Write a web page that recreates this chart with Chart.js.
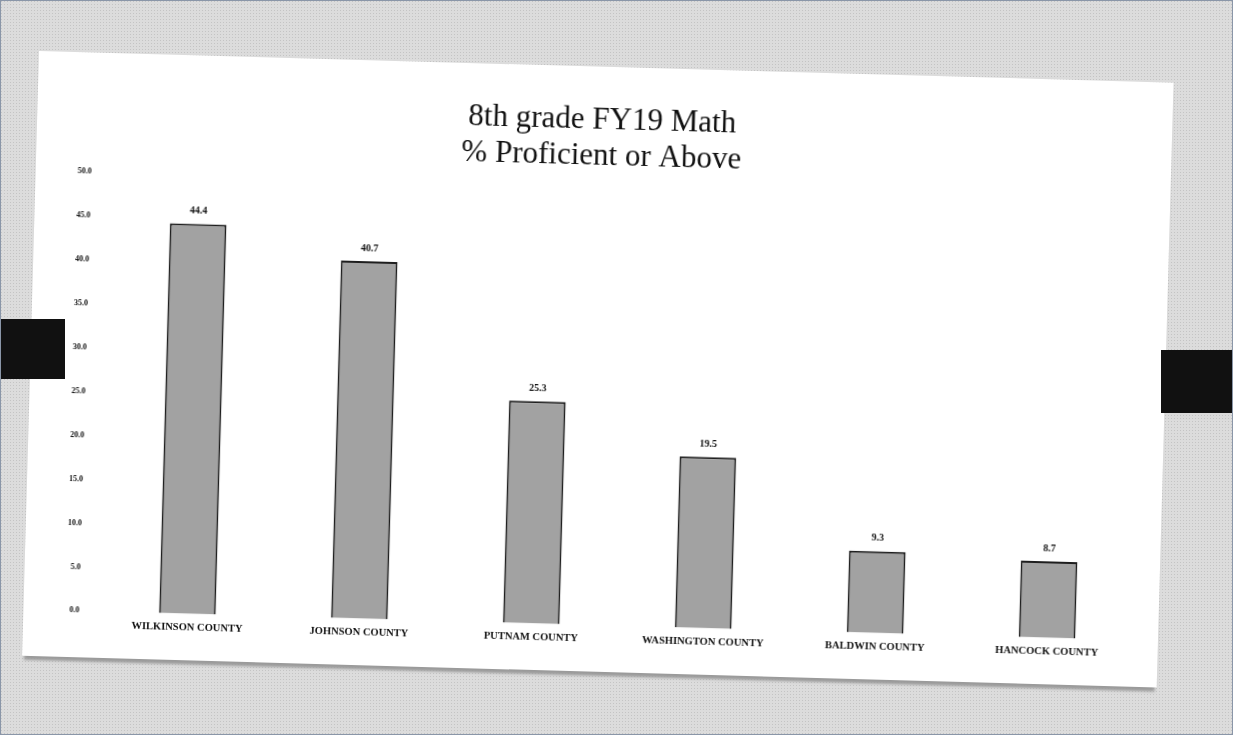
<!DOCTYPE html>
<html>
<head>
<meta charset="utf-8">
<script src="https://cdn.jsdelivr.net/npm/chart.js@4"></script>
<style>
  html, body { margin: 0; padding: 0; }
  body {
    width: 1233px; height: 735px; overflow: hidden; position: relative;
    background: #dcdcdc;
    background-image: radial-gradient(#c4c4c4 0.6px, transparent 0.8px);
    background-size: 3px 3px;
    box-sizing: border-box; border: 1px solid #8a96a8;
  }
  .card {
    position: absolute; left: 38px; top: 50px; width: 1135px; height: 605px;
    background: #fff; transform: rotate(1.6deg); transform-origin: 0 0;
    box-shadow: 0 6px 3px -2px #9a9a9a;
  }
  .tab { position: absolute; background: #111; }
</style>
</head>
<body>
<div class="card"><canvas id="chart" width="1135" height="605"></canvas></div>
<div class="tab" style="left:0;top:318px;width:64px;height:60px;"></div>
<div class="tab" style="left:1160px;top:349px;width:73px;height:63px;"></div>
<script>
  const counties = ['WILKINSON COUNTY', 'JOHNSON COUNTY', 'PUTNAM COUNTY', 'WASHINGTON COUNTY', 'BALDWIN COUNTY', 'HANCOCK COUNTY'];
  const proficient = [44.4, 40.7, 25.3, 19.5, 9.3, 8.7];
  const titleLines = ['8th grade FY19 Math', '% Proficient or Above'];

  // value labels above each bar
  const barLabels = {
    id: 'barLabels',
    afterDatasetsDraw(chart) {
      const ctx = chart.ctx;
      ctx.save();
      ctx.font = 'bold 10px "Liberation Serif", serif';
      ctx.fillStyle = '#111';
      ctx.textAlign = 'center';
      ctx.textBaseline = 'bottom';
      chart.getDatasetMeta(0).data.forEach((bar, i) => {
        ctx.fillText(proficient[i].toFixed(1), bar.x, bar.y - 8);
      });
      ctx.restore();
    }
  };

  new Chart(document.getElementById('chart'), {
    type: 'bar',
    data: {
      labels: counties,
      datasets: [{
        data: proficient,
        backgroundColor: '#a2a2a2',
        borderColor: '#1e1e1e',
        borderWidth: 2,
        barPercentage: 0.33,
        categoryPercentage: 1
      }]
    },
    options: {
      responsive: false,
      animation: false,
      layout: { padding: { left: 20, right: 25, top: 36, bottom: 18 } },
      plugins: {
        legend: { display: false },
        tooltip: { enabled: false },
        title: {
          display: true,
          text: titleLines,
          color: '#111',
          font: { family: '"Liberation Serif", serif', size: 31, weight: 'normal', lineHeight: 1.15 },
          padding: { top: 0, bottom: 12 }
        }
      },
      scales: {
        x: {
          grid: { display: false, drawTicks: false },
          border: { display: false },
          ticks: {
            color: '#111', padding: 8, maxRotation: 0, autoSkip: false,
            font: { family: '"Liberation Serif", serif', size: 10.5, weight: 'bold' }
          }
        },
        y: {
          min: 0, max: 50,
          grid: { display: false, drawTicks: false },
          border: { display: false },
          ticks: {
            stepSize: 5, color: '#111', padding: 22,
            font: { family: '"Liberation Serif", serif', size: 8, weight: 'bold' },
            callback: v => v.toFixed(1)
          }
        }
      }
    },
    plugins: [barLabels]
  });
</script>
</body>
</html>
